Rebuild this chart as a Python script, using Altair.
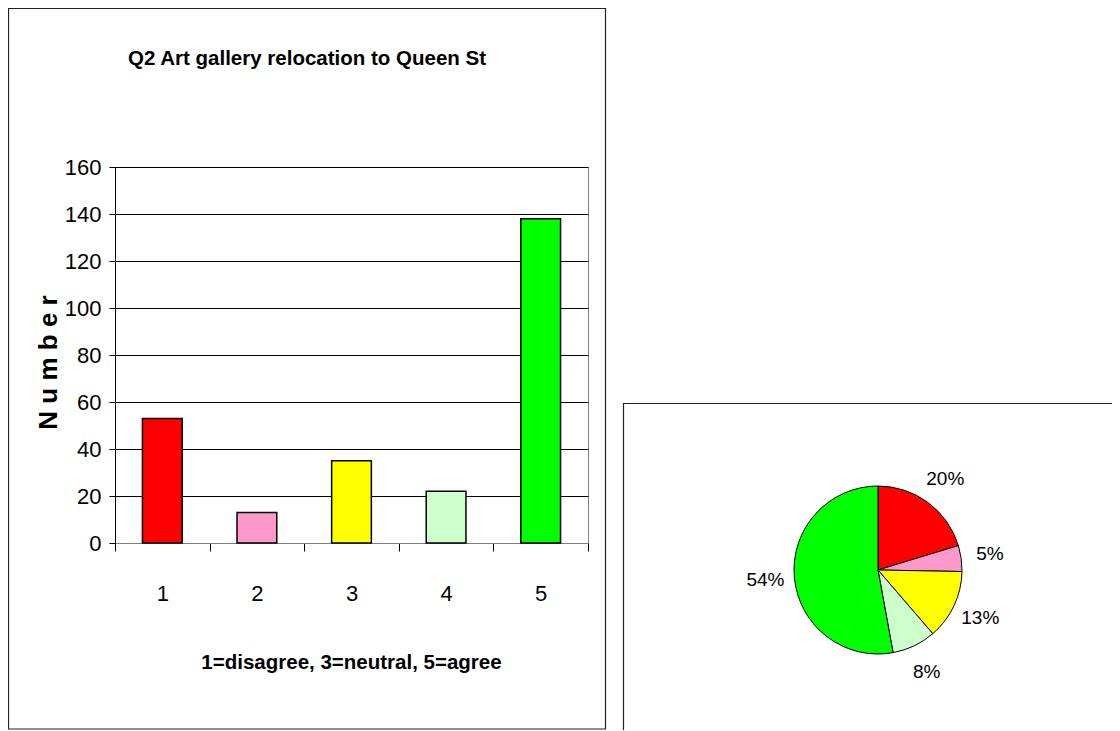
import altair as alt
import pandas as pd

categories = ["1", "2", "3", "4", "5"]
counts = [53, 13, 35, 22, 138]
colors = ["#FF0000", "#FF99CC", "#FFFF00", "#CCFFCC", "#00FF00"]
pct_labels = ["20%", "5%", "13%", "8%", "54%"]
y_ticks = [0, 20, 40, 60, 80, 100, 120, 140, 160]

title_text = "Q2 Art gallery relocation to Queen St"
x_title = "1=disagree, 3=neutral, 5=agree"
y_title = "N u m b e r"

df = pd.DataFrame({
    "cat": categories,
    "count": counts,
    "color": colors,
    "pct": pct_labels,
    "ord": list(range(len(categories))),
})

FONT = "Liberation Sans, Arial, sans-serif"

W, H = 473, 376
PAD_L, PAD_T = 107, 159
TOTAL_W, TOTAL_H = 1104, 722
one = pd.DataFrame({"t": [title_text]})

left_box = alt.Chart(one).mark_rect(fillOpacity=0, stroke="#222222", strokeWidth=1.2).encode(
    x=alt.value(-106.5), x2=alt.value(490.5), y=alt.value(-158.5), y2=alt.value(TOTAL_H - PAD_T - 1)
)
right_box = alt.Chart(one).mark_rect(fillOpacity=0, stroke="#222222", strokeWidth=1.2).encode(
    x=alt.value(508.5), x2=alt.value(1100), y=alt.value(236.5), y2=alt.value(700)
)
title_mark = alt.Chart(one).mark_text(
    font=FONT, fontSize=20.5, fontWeight="bold", color="black", baseline="middle", align="center"
).encode(x=alt.value(192), y=alt.value(-108), text="t:N")

bars = alt.Chart(df).mark_bar(
    stroke="black", strokeWidth=1.5, width=alt.RelativeBandSize(0.42)
).encode(
    x=alt.X(
        "cat:N", sort=categories,
        scale=alt.Scale(paddingInner=0, paddingOuter=0),
        axis=alt.Axis(
            title=x_title, labelAngle=0, tickBand="extent", tickSize=8, tickColor="black",
            domainColor="#808080", labelFont=FONT, labelFontSize=22, labelColor="black",
            labelPadding=42, labelBaseline="middle", grid=False,
            titleFont=FONT, titleFontSize=20.5, titleFontWeight="bold", titleColor="black",
            titleX=236, titleY=119, titleBaseline="middle", titleAlign="center",
        ),
    ),
    y=alt.Y(
        "count:Q", scale=alt.Scale(domain=[0, 160], nice=False),
        axis=alt.Axis(
            values=y_ticks, title=y_title, grid=True, gridColor="black", gridWidth=1,
            tickSize=6, tickColor="black", domainColor="black",
            labelFont=FONT, labelFontSize=22, labelColor="black", labelPadding=8,
            titleFont=FONT, titleFontSize=26, titleFontWeight="bold", titleColor="black",
            titleX=-67, titleY=195, titleAngle=270, titleAlign="center", titleBaseline="middle",
        ),
    ),
    color=alt.Color("color:N", scale=None),
)

pie = alt.Chart(df).mark_arc(stroke="black", strokeWidth=1, outerRadius=84).encode(
    theta=alt.Theta("count:Q", stack=True),
    order=alt.Order("ord:Q"),
    color=alt.Color("color:N", scale=None),
    x=alt.value(763), y=alt.value(403),
)
pie_text = alt.Chart(df).mark_text(radius=113, font=FONT, fontSize=19, color="black").encode(
    theta=alt.Theta("count:Q", stack=True),
    order=alt.Order("ord:Q"),
    text="pct:N",
    x=alt.value(763), y=alt.value(403),
)

chart = alt.layer(left_box, right_box, title_mark, bars, pie, pie_text).properties(
    width=W, height=H,
    autosize=alt.AutoSizeParams(type="none"),
    padding={"left": PAD_L, "top": PAD_T, "right": TOTAL_W - PAD_L - W, "bottom": TOTAL_H - PAD_T - H},
    background="white",
).configure_view(stroke="#808080", strokeWidth=1)

chart.save("out.html", embed_options={"renderer": "svg", "actions": False})
